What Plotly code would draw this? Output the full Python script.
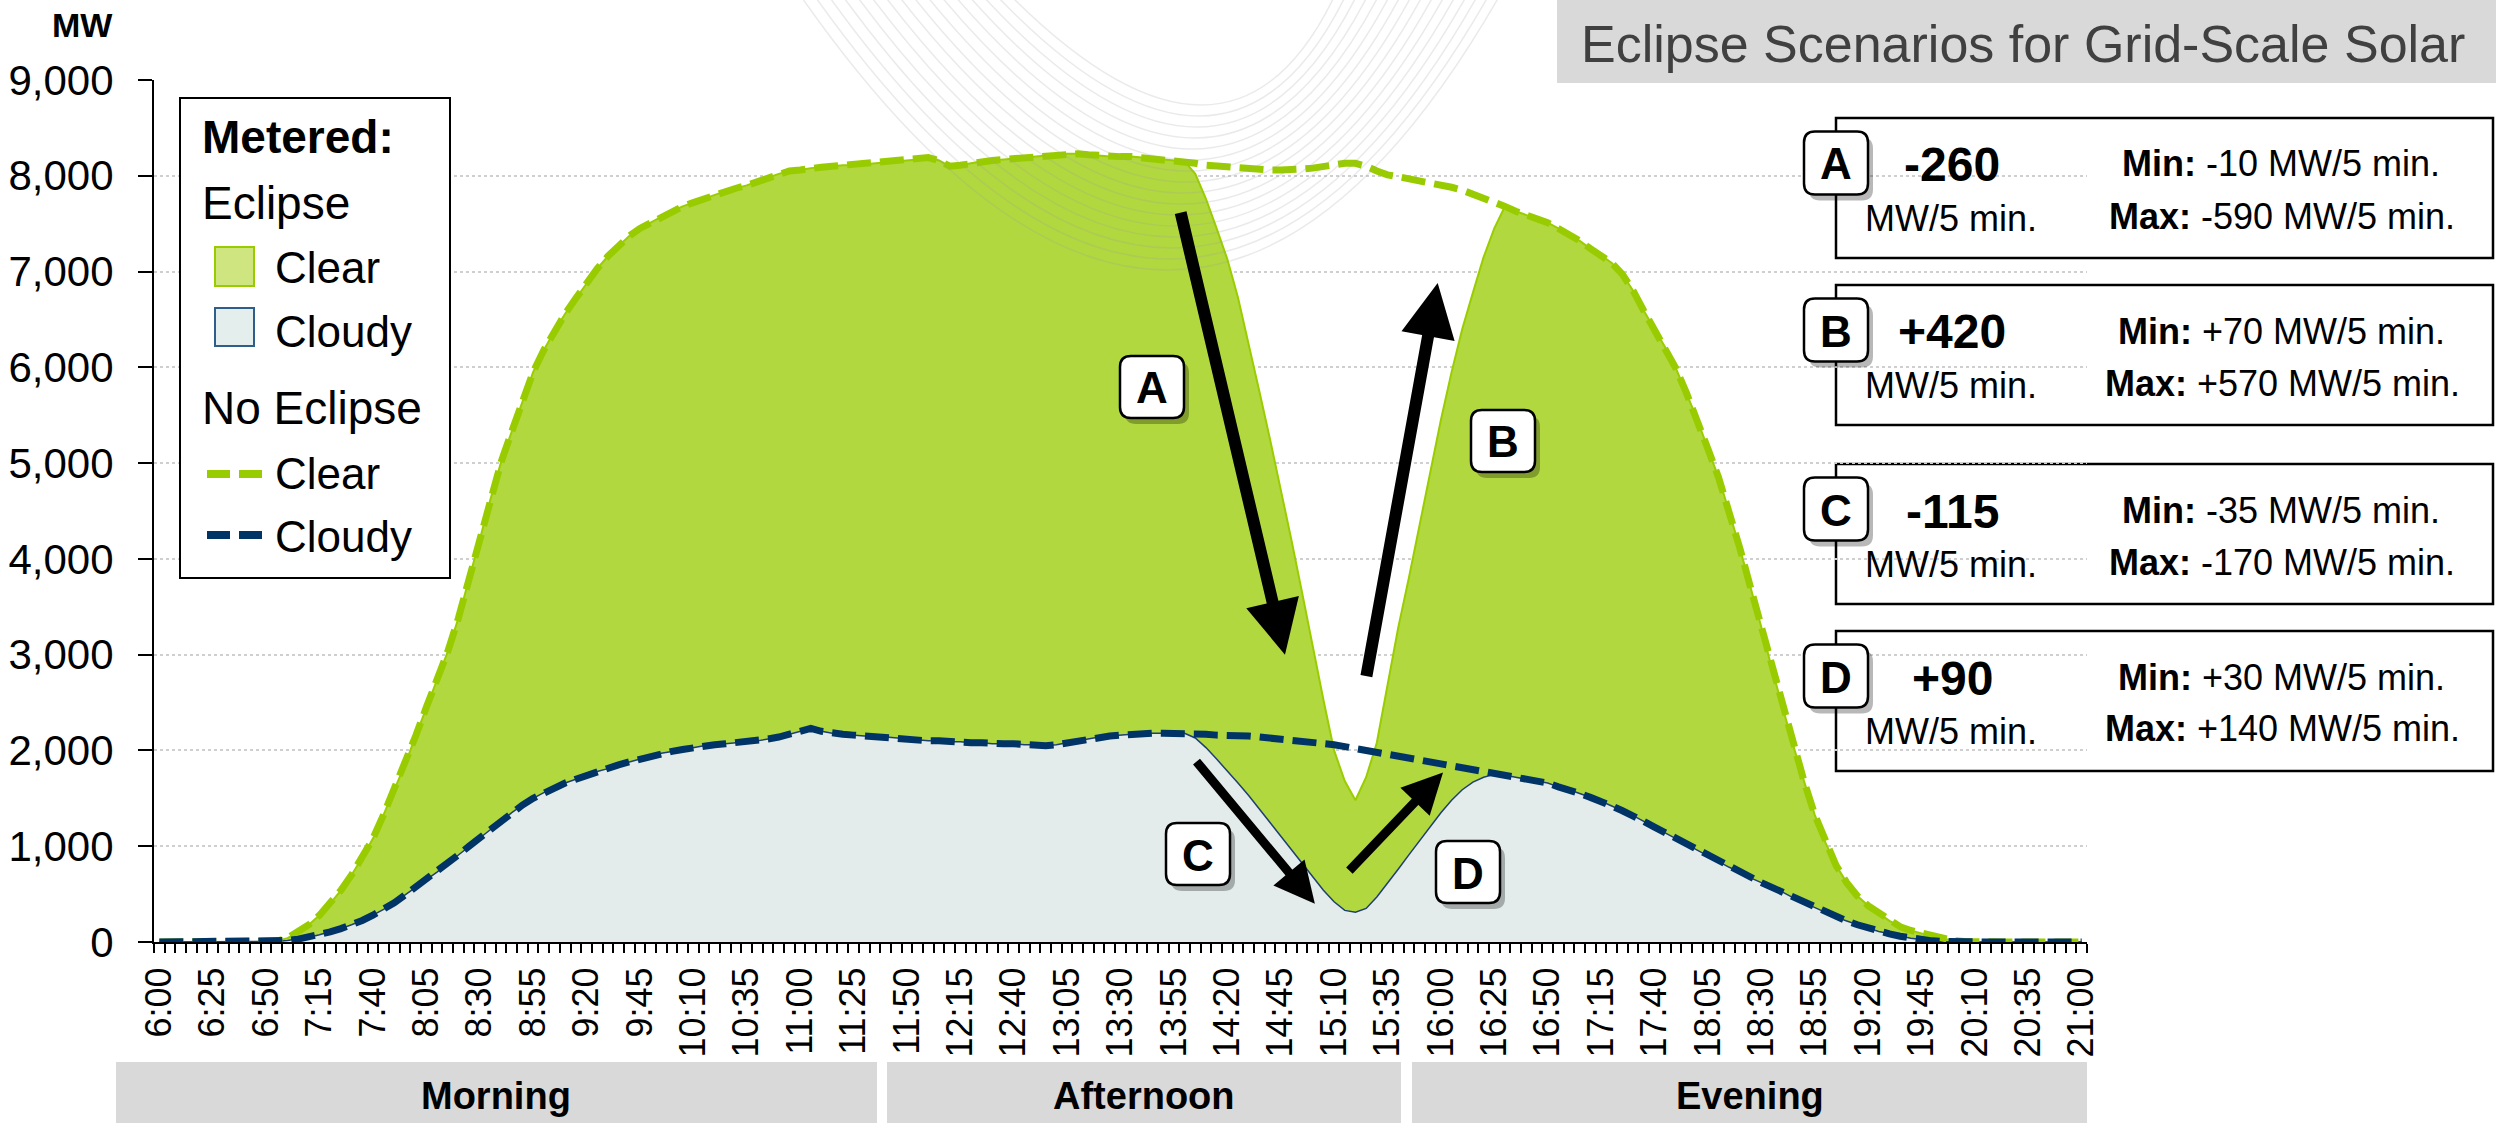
import plotly.graph_objects as go

W, H = 2496, 1123
FONT = "Liberation Sans, Arial, sans-serif"

# ---------------- data ----------------
# 5-minute categories from 6:00 to 21:00
TIMES = []
for m in range(6 * 60, 21 * 60 + 1, 5):
    TIMES.append(f"{m // 60}:{m % 60:02d}")

# No Eclipse - Clear (MW)
NO_ECLIPSE_CLEAR = [
    0, 0, 0, 0, 0, 0, 0, 0, 0, 0, 0,
    10, 40, 100, 180, 280, 400, 540, 700, 880, 1080,
    1330, 1600, 1850, 2150, 2450, 2730, 3030, 3380, 3780, 4200,
    4620, 5010, 5330, 5650, 5950, 6180, 6380, 6560, 6720, 6880,
    7030, 7160, 7270, 7370, 7450, 7510, 7570, 7630, 7680, 7720,
    7760, 7800, 7840, 7870, 7900, 7940, 7980, 8020, 8050, 8060,
    8080, 8090, 8100, 8110, 8110, 8120, 8130, 8140, 8150, 8160,
    8170, 8190, 8160, 8100, 8110, 8130, 8150, 8160, 8170, 8180,
    8190, 8200, 8210, 8220, 8230, 8230, 8220, 8210, 8200, 8200,
    8200, 8190, 8180, 8170, 8160, 8150, 8130, 8110, 8100, 8090,
    8080, 8070, 8060, 8060, 8060, 8060, 8070, 8080, 8100, 8120,
    8130, 8130, 8100, 8050, 8010, 7990, 7970, 7950, 7930, 7910,
    7880, 7850, 7810, 7770, 7720, 7680, 7630, 7590, 7550, 7510,
    7450, 7390, 7320, 7240, 7170, 7090, 6970, 6800, 6590, 6400,
    6210, 5990, 5730, 5460, 5150, 4850, 4490, 4110, 3700, 3290,
    2850, 2440, 2050, 1680, 1330, 1040, 800, 620, 480, 380,
    300, 220, 160, 120, 90, 60, 35, 15, 5,
    0, 0, 0, 0, 0, 0, 0, 0, 0, 0, 0,
]

# No Eclipse - Cloudy (MW)
NO_ECLIPSE_CLOUDY = [
    0, 0, 0, 0, 0, 0, 0, 0, 0, 0, 0,
    5, 15, 30, 50, 75, 105, 140, 180, 225, 280,
    340, 410, 490, 570, 650, 730, 820, 910, 1000, 1090,
    1180, 1270, 1350, 1430, 1500, 1560, 1610, 1660, 1700, 1740,
    1780, 1810, 1850, 1880, 1910, 1940, 1970, 1990, 2010, 2030,
    2050, 2060, 2070, 2080, 2090, 2100, 2120, 2140, 2170, 2200,
    2230, 2200, 2180, 2170, 2160, 2150, 2150, 2140, 2130, 2120,
    2110, 2100, 2100, 2090, 2090, 2080, 2080, 2070, 2070, 2070,
    2060, 2060, 2050, 2060, 2080, 2100, 2120, 2140, 2150, 2160,
    2170, 2170, 2180, 2180, 2180, 2180, 2170, 2170, 2160, 2160,
    2150, 2150, 2140, 2130, 2110, 2100, 2090, 2080, 2070, 2060,
    2040, 2020, 2000, 1980, 1960, 1940, 1920, 1900, 1880, 1860,
    1840, 1820, 1800, 1780, 1760, 1740, 1720, 1700, 1680, 1660,
    1620, 1590, 1550, 1510, 1470, 1420, 1370, 1320, 1260, 1200,
    1140, 1080, 1020, 960, 900, 840, 780, 730, 670, 620,
    570, 520, 460, 410, 360, 310, 260, 220, 180, 145,
    110, 85, 60, 40, 25, 12, 5,
    0, 0, 0, 0, 0, 0, 0, 0, 0, 0, 0, 0, 0,
]

# Eclipse window (category index 97..125)
ECLIPSE_START = 97
ECLIPSE_CLEAR_WINDOW = [
    8020, 7760, 7450, 7130, 6730, 6250, 5750, 5250, 4740, 4200,
    3650, 3080, 2530, 2000, 1680, 1480, 1720, 2080, 2680, 3280,
    3800, 4350, 4900, 5450, 5950, 6400, 6780, 7150, 7450,
]
ECLIPSE_CLOUDY_WINDOW = [
    2130, 2030, 1910, 1790, 1660, 1530, 1390, 1250, 1110, 970,
    830, 680, 540, 420, 330, 310, 350, 470, 610, 760,
    910, 1060, 1210, 1350, 1480, 1590, 1670, 1720, 1750,
]

ECLIPSE_END = ECLIPSE_START + len(ECLIPSE_CLEAR_WINDOW)
ECLIPSE_CLEAR = NO_ECLIPSE_CLEAR[:ECLIPSE_START] + ECLIPSE_CLEAR_WINDOW + NO_ECLIPSE_CLEAR[ECLIPSE_END:]
ECLIPSE_CLOUDY = NO_ECLIPSE_CLOUDY[:ECLIPSE_START] + ECLIPSE_CLOUDY_WINDOW + NO_ECLIPSE_CLOUDY[ECLIPSE_END:]

Y_TICKS = [0, 1000, 2000, 3000, 4000, 5000, 6000, 7000, 8000, 9000]
X_LABEL_STEP = 5

# scenario boxes
BOX_LETTERS = ["A", "B", "C", "D"]
BOX_AVG = ["-260", "+420", "-115", "+90"]
BOX_MIN = ["-10", "+70", "-35", "+30"]
BOX_MAX = ["-590", "+570", "-170", "+140"]

# arrows (tail idx, tail MW, head idx, head MW, width)
ARROWS = [
    (95.6, 7630, 105.4, 3000, 12),
    (113.0, 2760, 119.7, 6880, 12),
    (97.0, 1900, 108.2, 400, 9),
    (111.3, 730, 120.2, 1770, 9),
]

PERIODS = ["Morning", "Afternoon", "Evening"]

# ---------------- helpers ----------------
def px(x):
    return x / W


def py(y):
    return 1 - y / H


def rrect(x0, y0, x1, y1, r):
    return (f"M{px(x0 + r)},{py(y0)} L{px(x1 - r)},{py(y0)} "
            f"Q{px(x1)},{py(y0)} {px(x1)},{py(y0 + r)} L{px(x1)},{py(y1 - r)} "
            f"Q{px(x1)},{py(y1)} {px(x1 - r)},{py(y1)} L{px(x0 + r)},{py(y1)} "
            f"Q{px(x0)},{py(y1)} {px(x0)},{py(y1 - r)} L{px(x0)},{py(y0 + r)} "
            f"Q{px(x0)},{py(y0)} {px(x0 + r)},{py(y0)} Z")


shapes = []
annotations = []


def text(x, y, t, size, bold=False, color="black", xanchor="center", family=FONT):
    annotations.append(dict(
        x=px(x), y=py(y), xref="paper", yref="paper", showarrow=False,
        text=f"<b>{t}</b>" if bold else t, xanchor=xanchor, yanchor="middle",
        font=dict(size=size, color=color, family=family)))


def rect(x0, y0, x1, y1, fill, line="rgba(0,0,0,0)", lw=0, layer="above"):
    shapes.append(dict(type="rect", xref="paper", yref="paper",
                       x0=px(x0), x1=px(x1), y0=py(y1), y1=py(y0),
                       fillcolor=fill, line=dict(color=line, width=lw), layer=layer))


def badge(cx, cy, letter, w=64, h=62):
    x0, y0, x1, y1 = cx - w / 2, cy - h / 2, cx + w / 2, cy + h / 2
    shapes.append(dict(type="path", xref="paper", yref="paper",
                       path=rrect(x0 + 5, y0 + 6, x1 + 5, y1 + 6, 11),
                       fillcolor="rgba(0,0,0,0.28)", line=dict(width=0), layer="above"))
    shapes.append(dict(type="path", xref="paper", yref="paper",
                       path=rrect(x0, y0, x1, y1, 11),
                       fillcolor="white", line=dict(color="black", width=2.5), layer="above"))
    text(cx, cy + 1, letter, 44, bold=True)


# ---------------- figure ----------------
idx = list(range(len(TIMES)))
fig = go.Figure()

fig.add_trace(go.Scatter(x=idx, y=ECLIPSE_CLEAR, mode="lines", name="Eclipse Clear",
                         line=dict(color="#9ACD00", width=2), fill="tozeroy",
                         fillcolor="#B1D83F", showlegend=False, hoverinfo="skip"))
fig.add_trace(go.Scatter(x=idx, y=ECLIPSE_CLOUDY, mode="lines", name="Eclipse Cloudy",
                         line=dict(color="#1F3F73", width=1.5), fill="tozeroy",
                         fillcolor="#E3ECEB", showlegend=False, hoverinfo="skip"))
fig.add_trace(go.Scatter(x=idx, y=NO_ECLIPSE_CLEAR, mode="lines", name="No Eclipse Clear",
                         line=dict(color="#99CC00", width=7, dash="24px,9px"),
                         showlegend=False, hoverinfo="skip"))
fig.add_trace(go.Scatter(x=idx, y=NO_ECLIPSE_CLOUDY, mode="lines", name="No Eclipse Cloudy",
                         line=dict(color="#003366", width=7, dash="24px,9px"),
                         showlegend=False, hoverinfo="skip"))

# arrows
for tx, ty, hx, hy, aw in ARROWS:
    annotations.append(dict(x=hx, y=hy, ax=tx, ay=ty, xref="x", yref="y", axref="x", ayref="y",
                            text="", showarrow=True, arrowhead=2, arrowsize=0.9,
                            arrowwidth=aw, arrowcolor="black", standoff=0, startstandoff=0))

# in-chart badges
for (cx, cy), letter in zip([(1152, 387), (1503, 441), (1198, 854), (1468, 872)], BOX_LETTERS):
    badge(cx, cy, letter)

# decorative background arcs
for k in range(16):
    xl = 800 + 14 * k
    xr = 1500 - 11 * k
    yb = 270 - 11 * k
    xb = 1185 + 3 * k
    shapes.append(dict(type="path", xref="paper", yref="paper",
                       path=f"M{px(xl)},{py(-5)} Q{px(xb)},{py(2 * yb + 5)} {px(xr)},{py(-5)}",
                       line=dict(color="rgba(160,160,160,0.22)", width=1.5), layer="above"))

# title box
rect(1557, 0, 2496, 83, "#D9D9D9", layer="below")
text(2023, 44, "Eclipse Scenarios for Grid-Scale Solar", 52, color="#404040")

# MW label
text(82, 25, "MW", 34, bold=True)

# legend
rect(180, 98, 450, 578, "white", "black", 2)
text(200, 137, "Metered:", 46, bold=True, xanchor="left")
text(200, 203, "Eclipse", 46, xanchor="left")
rect(215, 247, 254, 286, "#CFE57F", "#99CC00", 2)
text(273, 267, "Clear", 44, xanchor="left")
rect(215, 308, 254, 346, "#E4EEED", "#2F5D8C", 2)
text(273, 332, "Cloudy", 44, xanchor="left")
text(200, 408, "No Eclipse", 46, xanchor="left")
shapes.append(dict(type="line", xref="paper", yref="paper", x0=px(207), x1=px(264),
                   y0=py(474), y1=py(474), line=dict(color="#99CC00", width=8, dash="23px,9px"),
                   layer="above"))
text(273, 473, "Clear", 44, xanchor="left")
shapes.append(dict(type="line", xref="paper", yref="paper", x0=px(207), x1=px(264),
                   y0=py(535), y1=py(535), line=dict(color="#003366", width=8, dash="23px,9px"),
                   layer="above"))
text(273, 536, "Cloudy", 44, xanchor="left")

# scenario boxes
for top, letter, avg, mn, mx in zip([118, 285, 464, 631], BOX_LETTERS, BOX_AVG, BOX_MIN, BOX_MAX):
    rect(1836, top, 2493, top + 140, "rgba(255,255,255,0)", "black", 2.5, layer="below")
    badge(1836, top + 45, letter, w=64, h=63)
    text(1952, top + 47, avg, 48, bold=True)
    text(1951, top + 100, "MW/5 min.", 36)
    text(2281, top + 46, f"<b>Min:</b> {mn} MW/5 min.", 36)
    text(2282, top + 98, f"<b>Max:</b> {mx} MW/5 min.", 36)

# period bands
for (x0, x1), name in zip([(116, 877), (887, 1401), (1412, 2087)], PERIODS):
    rect(x0, 1062, x1, 1123, "#D9D9D9", layer="below")
    text((x0 + x1) / 2, 1096, name, 38, bold=True)

fig.update_layout(
    width=W, height=H,
    margin=dict(l=0, r=0, t=0, b=0, autoexpand=False),
    paper_bgcolor="white", plot_bgcolor="rgba(0,0,0,0)",
    showlegend=False,
    font=dict(family=FONT, color="black"),
    shapes=shapes, annotations=annotations,
    xaxis=dict(
        domain=[154 / W, 2087 / W], range=[-0.5, len(TIMES) - 0.5],
        showgrid=False, zeroline=False, showline=True, linecolor="black", linewidth=2,
        tickmode="array", tickvals=idx[::X_LABEL_STEP], ticktext=TIMES[::X_LABEL_STEP],
        tickangle=-90, ticks="outside", ticklen=9, tickcolor="rgba(0,0,0,0)",
        tickfont=dict(size=36, family=FONT, color="black"),
        minor=dict(tickmode="linear", tick0=-0.5, dtick=1, ticks="outside",
                   ticklen=9, tickwidth=1.5, tickcolor="black", showgrid=False),
        fixedrange=True,
    ),
    yaxis=dict(
        domain=[1 - 942 / H, 1 - 80 / H], range=[0, 9000],
        tickmode="array", tickvals=Y_TICKS, tickformat=",",
        showgrid=True, griddash="dot", gridcolor="#CFCFCF", gridwidth=2,
        zeroline=False, showline=True, linecolor="black", linewidth=2,
        ticks="outside", ticklen=14, tickwidth=2, tickcolor="black",
        ticklabelstandoff=16,
        tickfont=dict(size=42, family=FONT, color="black"),
        fixedrange=True,
    ),
)

fig.write_html("out.html", config={"displayModeBar": False},
               post_script="document.body.style.margin='0';document.body.style.overflow='hidden';")
